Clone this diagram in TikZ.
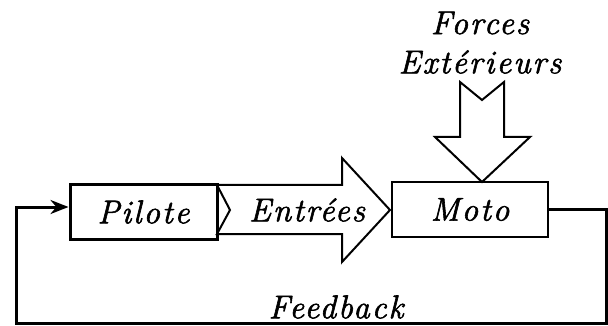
\documentclass[tikz,border=0pt]{standalone}
\usepackage{fontspec}
\setmainfont{Latin Modern Roman}[LetterSpace=6,FakeBold=1.8]
\usetikzlibrary{arrows.meta}

\begin{document}
\begin{tikzpicture}[x=1pt,y=-1pt,
    lbl/.style={font=\fontsize{33}{38}\selectfont\itshape},
    blk/.style={draw, fill=white, lbl, inner sep=0pt},
    bigarrow/.style={draw, line width=2pt, fill=white, line join=miter},
    loopline/.style={line width=3pt}]
    \useasboundingbox (0,0) rectangle (608,326);
    % blocs
    \node[blk, line width=3pt, minimum width=147pt, minimum height=54pt] (pilote) at (143.5,212) {Pilote};
    \node[blk, line width=2pt, minimum width=156pt, minimum height=55pt] (moto) at (470,209.5) {Moto};

    % fleche des entrees
    \draw[bigarrow] (217,185) -- (342,185) -- (342,158) -- (390,210) -- (342,262) -- (342,234) -- (217,234) -- (230,210) -- cycle;
    \node[lbl] (entrees) at (307,210) {Entrées};

    % forces exterieures
    \draw[bigarrow] (460,82) -- (482,100) -- (504,82) -- (504,137) -- (530,137) -- (482,182) -- (435,137) -- (460,137) -- cycle;
    \node[lbl] (forces) at (480,23) {Forces};
    \node[lbl] (exter) at (480,62) {Extérieurs};

    % boucle de retour
    \coordinate (br) at (606,323);
    \coordinate (bl) at (16,323);
    \draw[loopline, -{Stealth[length=18pt,width=14pt]}] (moto.east) -| (br) -- (bl) |- ([yshift=5pt]pilote.west);
    \node[lbl] (feedback) at (336,307) {Feedback};
\end{tikzpicture}
\end{document}
